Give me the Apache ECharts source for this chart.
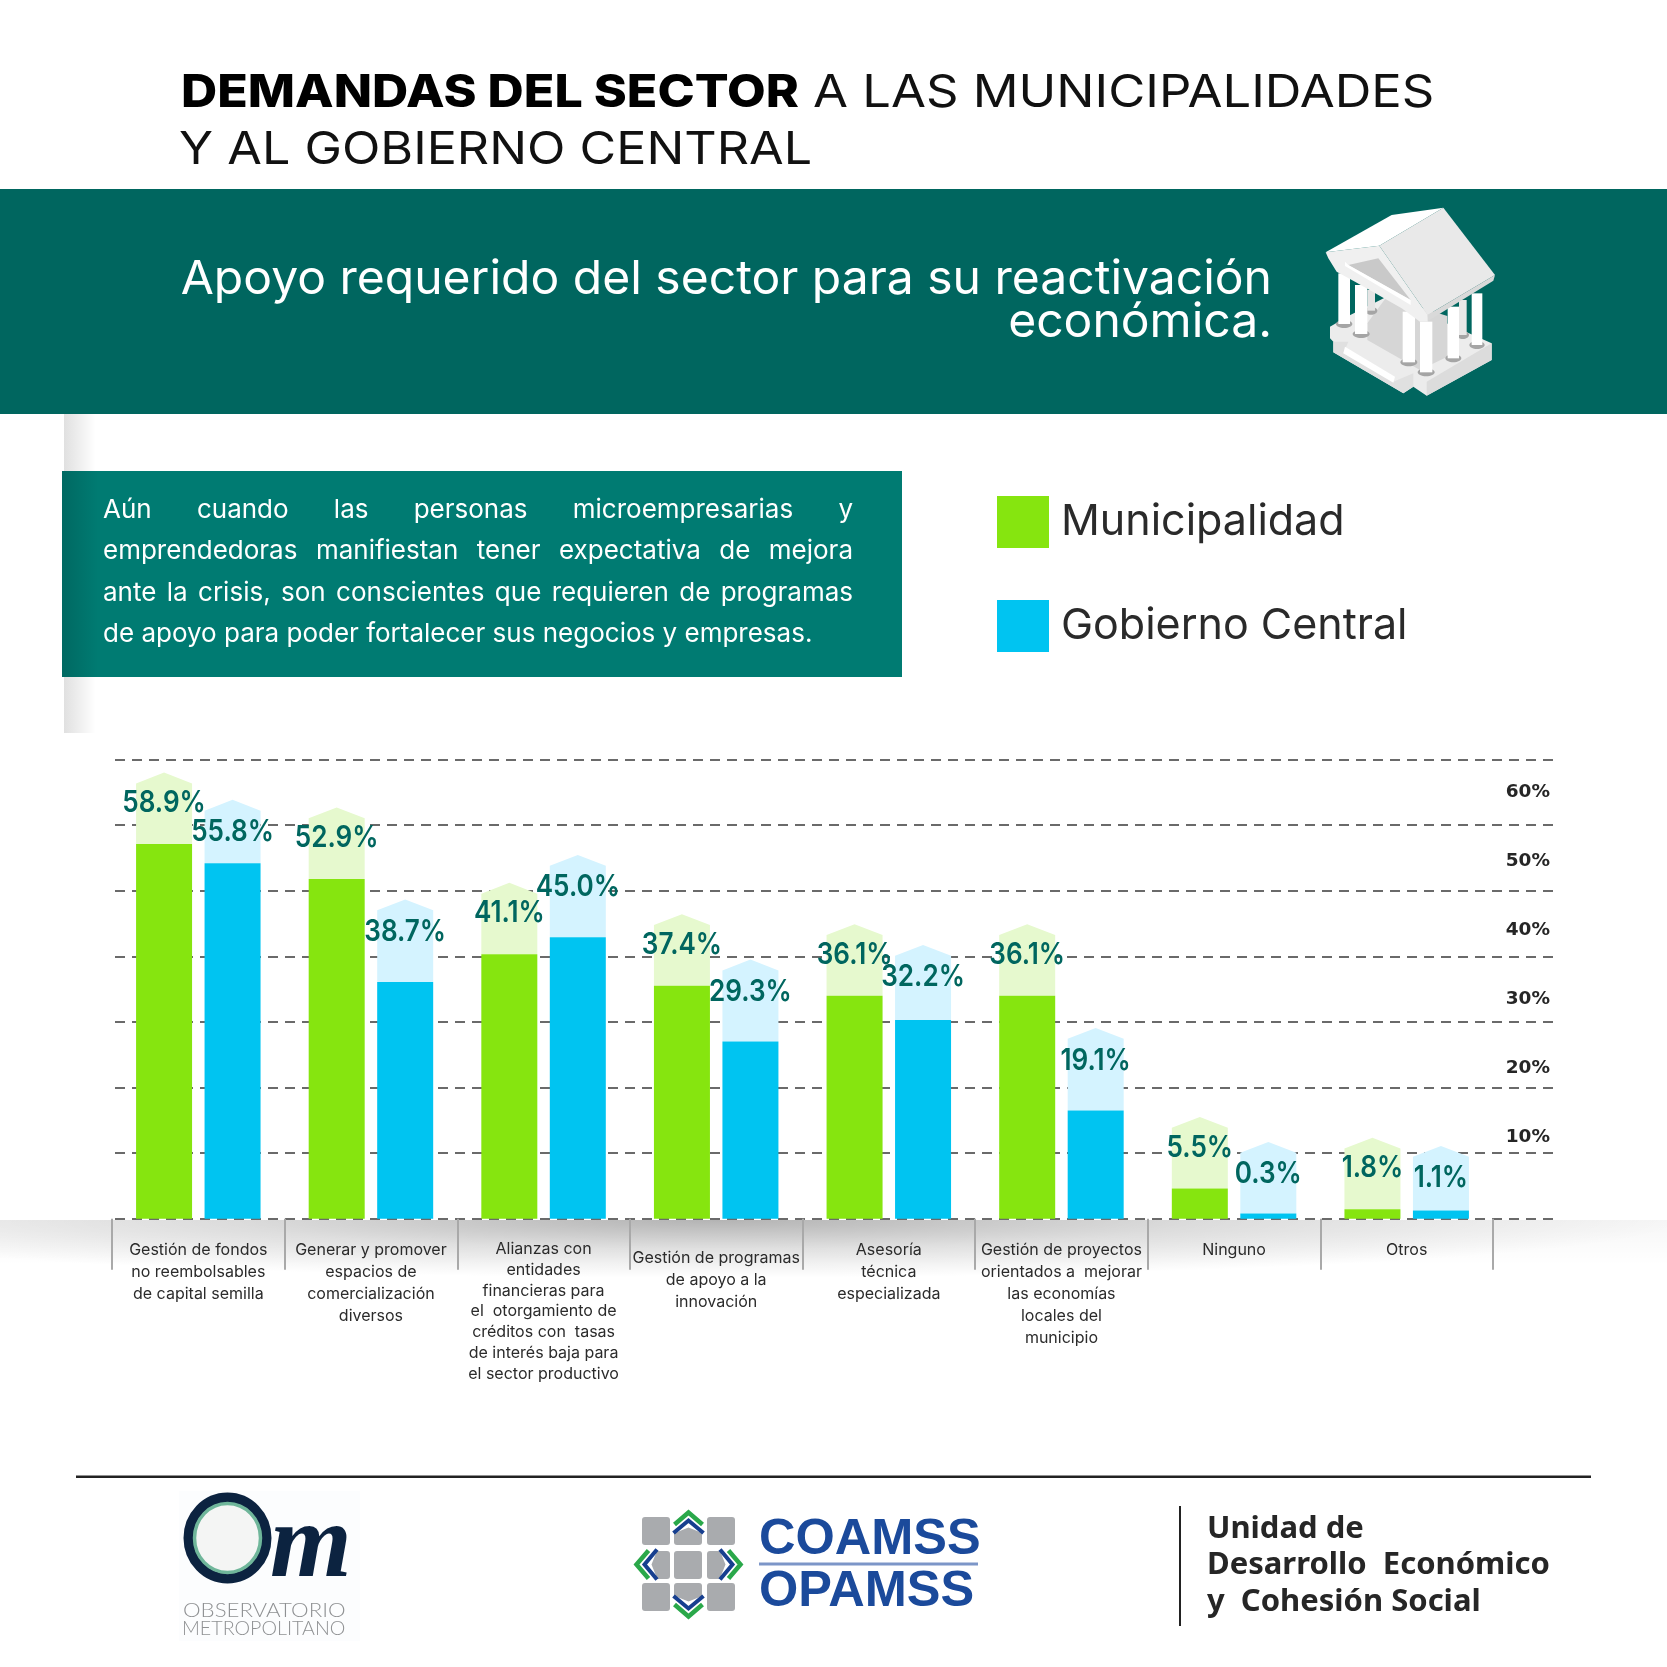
<!DOCTYPE html>
<html><head><meta charset="utf-8">
<style>html,body{margin:0;padding:0;background:#fff}#c{width:1667px;height:1667px}</style>
<script src="https://cdn.jsdelivr.net/npm/echarts@6/dist/echarts.min.js"></script>
</head><body><div id="c"></div>
<script>
const categories = [
 'Gestión de fondos\nno reembolsables\nde capital semilla',
 'Generar y promover\nespacios de\ncomercialización\ndiversos',
 'Alianzas con\nentidades\nfinancieras para\nel  otorgamiento de\ncréditos con  tasas\nde interés baja para\nel sector productivo',
 'Gestión de programas\nde apoyo a la\ninnovación',
 'Asesoría\ntécnica\nespecializada',
 'Gestión de proyectos\norientados a  mejorar\nlas economías\nlocales del\nmunicipio',
 'Ninguno',
 'Otros'
];
// printed percentages
const municipalidadPct = ['58.9','52.9','41.1','37.4','36.1','36.1','5.5','1.8'];
const gobiernoPct = ['55.8','38.7','45.0','29.3','32.2','19.1','0.3','1.1'];
// bar heights as drawn in the picture, read against the dashed gridlines
const municipalidadDrawn = [57.1,51.8,40.3,35.5,34.0,34.0,4.6,1.45];
const gobiernoDrawn = [54.2,36.1,42.9,27.0,30.3,16.5,0.8,1.25];
// height of the pale house above each bar, in the same units
const municipalidadHalo = [10.9,10.9,10.9,10.9,10.9,10.9,10.9,10.9];
const gobiernoHalo = [9.65,12.56,12.56,12.5,11.44,12.56,10.9,9.85];

const TEAL='#00665f', GREEN='#86e50f', BLUE='#00c4f1';
const chart = echarts.init(document.getElementById('c'),null,{renderer:'canvas'});
const UI='Inter';

function house(fill,dir){
  return function(params,api){
    const i=api.value(0),h=api.value(1),hal=api.value(2);
    const p=api.coord([i,h]), top=api.coord([i,h+hal])[1];
    const cx=p[0]+dir*34.25, y=p[1], w=28;
    return {type:'polygon',shape:{points:[[cx-w,y],[cx+w,y],[cx+w,top+10.8],[cx,top],[cx-w,top+10.8]]},style:{fill:fill}};
  };
}
function valueLabel(pct,dir,below){
  return function(params,api){
    const i=api.value(0),h=api.value(1),hal=api.value(2);
    const p=api.coord([i,h]), top=api.coord([i,h+hal])[1];
    return {type:'text',x:p[0]+dir*34.25,y:top+below,scaleX:0.87,
      style:{text:pct[params.dataIndex]+'%',fill:TEAL,font:'600 30px '+UI,align:'center',verticalAlign:'middle'}};
  };
}
function triple(drawn,halo){return drawn.map((v,i)=>[i,v,halo[i]]);}
function barSeries(name,color,drawn){
  return {name,type:'bar',xAxisIndex:0,yAxisIndex:0,z:3,barWidth:56,barGap:'22.3%',data:drawn,itemStyle:{color}};
}
function customSeries(name,z,renderItem,drawn,halo){
  return {name,type:'custom',xAxisIndex:0,yAxisIndex:0,z,renderItem,encode:{x:0,y:1},data:triple(drawn,halo),silent:true};
}

// --- decoration ---
const g=[];
function rect(x,y,w,h,fill,z){g.push({type:'rect',shape:{x,y,width:w,height:h},style:{fill},z:z||1,silent:true});}
function txt(x,y,t,font,fill,scaleX,extra){g.push({type:'text',x,y,scaleX:scaleX||1,z:6,silent:true,style:Object.assign({text:t,font,fill,verticalAlign:'bottom'},extra||{})});}
function poly(points,fill,z){g.push({type:'polygon',shape:{points},style:{fill},z:z||2,silent:true});}
function line(points,stroke,w,z){g.push({type:'polyline',shape:{points},style:{stroke,lineWidth:w,fill:null,lineJoin:'miter'},z:z||3,silent:true});}
const LG=(x0,y0,x1,y1,a,b)=>new echarts.graphic.LinearGradient(x0,y0,x1,y1,[{offset:0,color:a},{offset:1,color:b}]);

rect(0,189,1667,225,TEAL);
// title and sub-title
txt(181,116,'DEMANDAS DEL SECTOR','800 45.5px '+UI,'#000',1.102);
txt(813,116,'A LAS MUNICIPALIDADES','400 45.5px '+UI,'#111',1.115);
txt(179,173,'Y AL GOBIERNO CENTRAL','400 45.5px '+UI,'#111',1.104);
txt(1272,303.5,'Apoyo requerido del sector para su reactivación','400 47px '+UI,'#fff',1.022,{align:'right'});
txt(1272,346,'económica.','400 47px '+UI,'#fff',1.022,{align:'right'});

// left shadow strip, broken by the text box
g.push({type:'rect',shape:{x:64,y:414,width:32,height:319},z:0,silent:true,style:{fill:LG(0,0,1,0,'rgba(0,0,0,0.12)','rgba(0,0,0,0)')}});
rect(62,471,840,206,'#007b72',2);
g.push({type:'rect',shape:{x:62,y:471,width:36,height:206},z:2,silent:true,style:{fill:LG(0,0,1,0,'rgba(0,40,40,0.22)','rgba(0,40,40,0)')}});
// baseline shadow: an elliptical glow, strongest towards the centre of the chart
g.push({type:'rect',shape:{x:0,y:1220,width:1667,height:46},z:0,silent:true,style:{fill:LG(0,0,0,1,'rgba(0,0,0,0.035)','rgba(0,0,0,0)')}});
g.push({type:'rect',x:0,y:1220,scaleX:16.67,shape:{x:0,y:0,width:100,height:58},z:0,silent:true,
  style:{fill:new echarts.graphic.RadialGradient(0.43,0,1,[{offset:0,color:'rgba(0,0,0,0.27)'},{offset:0.5,color:'rgba(0,0,0,0.11)'},{offset:1,color:'rgba(0,0,0,0)'}])}});

// justified paragraph
const paraFont='400 26px '+UI;
const para=[['Aún cuando las personas microempresarias y',523,true],
 ['emprendedoras manifiestan tener expectativa de mejora',564,true],
 ['ante la crisis, son conscientes que requieren de programas',606,true],
 ['de apoyo para poder fortalecer sus negocios y empresas.',647,false]];
const mctx=document.createElement('canvas').getContext('2d');
mctx.font=paraFont;
para.forEach(function(l){
  const words=l[0].split(' ');
  const widths=words.map(w=>mctx.measureText(w).width);
  const sum=widths.reduce((a,b)=>a+b,0);
  const gap=l[2]?(750-sum)/(words.length-1):mctx.measureText(' ').width;
  let x=103;
  words.forEach(function(w,i){ txt(x,l[1],w,paraFont,'#fff'); x+=widths[i]+gap; });
});

// building icon (crop units)
(function(){
  const T=a=>a.map(p=>[1280+p[0]/3,190+p[1]/3]);
  const P=(a,f)=>poly(T(a),f,3);
  P([[150,410],[205,378],[320,320],[635,460],[635,510],[440,617],[400,590],[370,610],[160,487],[160,455],[150,445]],'#ececec');
  P([[262,400],[320,320],[502,378],[502,500],[420,540],[262,450]],'#d6d6d6');
  P([[160,455],[205,455],[190,490],[340,575],[400,550],[400,590],[370,610],[160,487]],'#e0e0e0');
  P([[195,470],[345,560],[340,578],[190,490]],'#ffffff');
  P([[440,575],[635,460],[635,510],[440,617]],'#dcdcdc');
  const col=(x1,x2,y1,y2,f)=>{
    g.push({type:'ellipse',shape:{cx:1280+(x1+x2)/6,cy:190+y2/3,rx:(x2-x1+14)/6,ry:4},style:{fill:'#a5a5a5'},z:3,silent:true});
    rect(1280+x1/3,190+y1/3,(x2-x1)/3,(y2-y1)/3,f,3);
  };
  col(262,285,300,362,'#e4e4e4');col(537,560,330,435,'#e8e8e8');
  col(175,210,250,402,'#fff');col(225,262,285,432,'#fff');col(503,537,350,505,'#fff');col(575,607,310,465,'#fff');col(368,405,365,517,'#fff');col(420,457,395,547,'#fff');
  P([[137,187],[298,167],[443,375],[443,395],[420,395],[365,355],[225,275],[170,245],[145,205]],'#f0f0f0');
  P([[205,225],[295,205],[392,330]],'#c9c9c9');
  P([[195,215],[205,225],[392,330],[392,345],[195,228]],'#ffffff');
  P([[137,187],[335,75],[490,53],[298,167]],'#ffffff');
  P([[490,53],[645,255],[443,375],[298,167]],'#e9e9e9');
  P([[443,375],[645,255],[640,272],[445,392]],'#d9d9d9');
})();

// footer
rect(76,1475.5,1515,2.6,'#222',2);
rect(1179,1506,2,120,'#222',2);
[['Unidad de',1545],['Desarrollo  Económico',1581],['y  Cohesión Social',1618]].forEach(l=>txt(1207,l[1],l[0],'700 31px "Noto Sans"','#262626'));

// OM logo
rect(179,1491,181,150,'#fcfdfe',1);
g.push({type:'ellipse',shape:{cx:227.5,cy:1538,rx:39,ry:40.5},style:{fill:'#f4f5f4',stroke:'#0c2340',lineWidth:10},z:3,silent:true});
g.push({type:'ellipse',shape:{cx:227.5,cy:1538,rx:33,ry:34.5},style:{fill:'none',stroke:'#6fb69a',lineWidth:3.5},z:3,silent:true});
txt(270,1601,'m','italic 700 105px "Liberation Serif"','#0c2340');
txt(183,1620,'OBSERVATORIO','300 19px Lato','#8f9193',1.17);
txt(182,1638,'METROPOLITANO','300 19px Lato','#8f9193',1.035);

// COAMSS logo
[642,674,707].forEach(x=>[1517,1551,1583].forEach(y=>{
  g.push({type:'rect',shape:{x,y,width:28,height:28,r:3},style:{fill:'#a9abae'},z:2,silent:true});
}));
const cx=688.5, cy=1564.5;
function chev(dx,dy){
  const m=(a,b)=>dy?[cx+a,cy-dy*b]:[cx+dx*b,cy+a];
  poly([m(-15,48),m(15,48),m(15,31),m(0,37),m(-15,31)],'#fff',3);
  line([m(-14,40),m(0,52),m(14,40)],'#2aa84a',4.5);
  line([m(-15,31.5),m(0,44),m(15,31.5)],'#173f8f',4);
}
chev(0,1);chev(0,-1);chev(1,0);chev(-1,0);
txt(759,1566,'COAMSS','700 50.5px "Liberation Sans"','#1b4a9b');
rect(759,1562.5,219,3,'#7c96c8',2);
txt(759,1618,'OPAMSS','700 50.5px "Liberation Sans"','#1b4a9b');

const option={
  animation:false,
  backgroundColor:'#fff',
  textStyle:{fontFamily:UI},
  legend:{data:['Municipalidad','Gobierno Central'],left:992,top:491,orient:'vertical',align:'left',icon:'rect',
    itemWidth:52,itemHeight:52,itemGap:52,selectedMode:false,
    textStyle:{fontFamily:UI,fontSize:43,color:'#2a2a2a',padding:[0,0,5,7]}},
  grid:[
    {left:112,width:1381,top:759.5,height:459.2},
    {left:115,width:1439,top:759.5,height:459.2},
    {left:1300,width:250,top:792,height:414.8}
  ],
  xAxis:[
    {gridIndex:0,type:'category',data:categories.map((c,i)=>{
        if(i===2) return {value:c,textStyle:{lineHeight:20.8}};
        if(i===3) return {value:c,textStyle:{padding:[8,0,0,0]}};
        return c;}),
     axisLine:{show:false},
     axisTick:{show:true,length:51,lineStyle:{color:'#a9a9a9',width:2}},
     axisLabel:{interval:0,margin:20,fontFamily:UI,fontSize:16,lineHeight:22,color:'#2b2b2b'}},
    {gridIndex:1,type:'value',min:0,max:1,show:false},
    {gridIndex:2,type:'value',min:0,max:1,show:false}
  ],
  yAxis:[
    {gridIndex:0,type:'value',min:0,max:70,show:false},
    {gridIndex:1,type:'value',min:0,max:70,interval:10,
      axisLine:{show:false},axisTick:{show:false},axisLabel:{show:false},
      splitLine:{show:true,lineStyle:{color:'#3a3a3a',width:1.7,type:[10,7]}}},
    {gridIndex:2,type:'value',min:0,max:60,interval:10,position:'right',
      axisLine:{show:false},axisTick:{show:false},splitLine:{show:false},
      axisLabel:{inside:true,margin:0,align:'right',formatter:v=>v===0?'':v+'%',
        fontFamily:'DejaVu Sans',fontWeight:700,fontSize:18.5,color:'#262626'}}
  ],
  graphic:g,
  series:[
    customSeries('m-halo',2,house('#e6f9ce',-1),municipalidadDrawn,municipalidadHalo),
    customSeries('g-halo',2,house('#d4f3ff',1),gobiernoDrawn,gobiernoHalo),
    barSeries('Municipalidad',GREEN,municipalidadDrawn),
    barSeries('Gobierno Central',BLUE,gobiernoDrawn),
    customSeries('m-label',5,valueLabel(municipalidadPct,-1,30.5),municipalidadDrawn,municipalidadHalo),
    customSeries('g-label',5,valueLabel(gobiernoPct,1,32.5),gobiernoDrawn,gobiernoHalo)
  ]
};
chart.setOption(option);
</script></body></html>
